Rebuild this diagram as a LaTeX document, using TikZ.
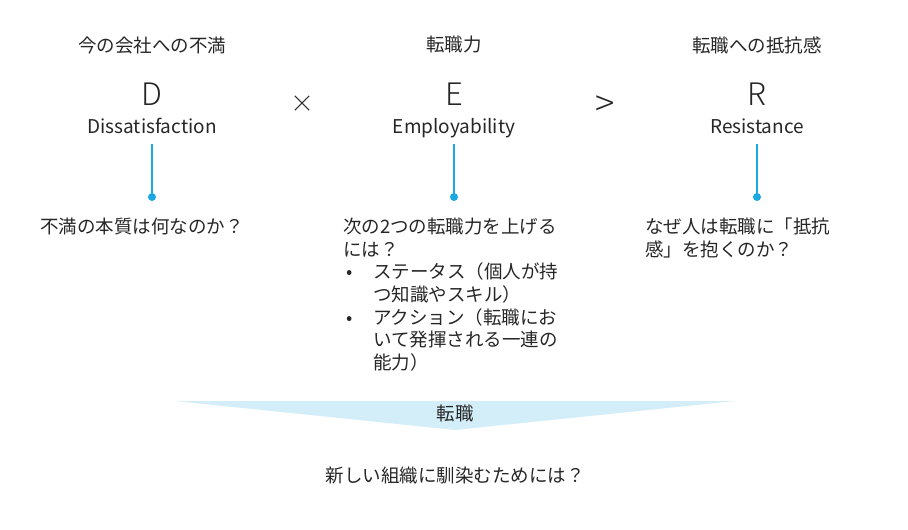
\documentclass[tikz,border=0pt]{standalone}
\usepackage{fontspec}
\setmainfont{Noto Sans CJK JP}
\newfontfamily\lightfont{Noto Sans CJK JP Light}
\usetikzlibrary{positioning}
\definecolor{linkblue}{HTML}{1AA9E2}
\definecolor{shiftfill}{HTML}{D3EEF9}
\definecolor{inkgray}{HTML}{262626}
\begin{document}
\begin{tikzpicture}[
    x=1pt, y=-1pt,
    text=inkgray,
    % Styles
    head_text/.style={font=\fontsize{18.5}{22}\selectfont, inner sep=0pt},
    big_letter/.style={font=\lightfont\fontsize{31}{33}\selectfont, inner sep=0pt},
    word_text/.style={font=\fontsize{19}{22}\selectfont, inner sep=0pt, anchor=base},
    op_text/.style={font=\lightfont\fontsize{24}{26}\selectfont, inner sep=0pt},
    body_text/.style={font=\fontsize{18.5}{22.6}\selectfont, inner sep=0pt, align=left, anchor=north west},
    end_dot/.style={circle, fill=linkblue, inner sep=0pt, minimum size=8pt},
    link_line/.style={linkblue, line width=1.3pt}
]
    \useasboundingbox (0,0) rectangle (908,530);

    % headers
    \node[head_text] (hD) at (152,45) {今の会社への不満};
    \node[head_text] (hE) at (454,45) {転職力};
    \node[head_text] (hR) at (757,45) {転職への抵抗感};

    % letters
    \node[big_letter] (lD) at (152,94) {D};
    \node[big_letter] (lE) at (454,94) {E};
    \node[big_letter] (lR) at (757,94) {R};
    \node[op_text] (times) at (302,104) {×};
    \node[op_text, font=\lightfont\fontsize{36}{38}\selectfont] (greater) at (605,106) {>};

    % words
    \node[word_text] (wD) at (152,133) {Dissatisfaction};
    \node[word_text] (wE) at (454,133) {Employability};
    \node[word_text] (wR) at (757,133) {Resistance};

    % dots and lines
    \foreach \k/\x in {D/152, E/454, R/757} {
        \node[end_dot] (dot\k) at (\x,197) {};
        \draw[link_line] ([yshift=-11pt]w\k.base) -- (dot\k.center);
    }

    % questions
    \node[body_text] (qD) at (40,218) {不満の本質は何なのか？};
    \node[body_text] (qE) at (343,218) {次の2つの転職力を上げる\\
        には？\\
        \makebox[30pt][l]{\hspace{3pt}•}ステータス（個人が持\\
        \hspace*{30pt}つ知識やスキル）\\
        \makebox[30pt][l]{\hspace{3pt}•}アクション（転職にお\\
        \hspace*{30pt}いて発揮される一連の\\
        \hspace*{30pt}能力）};
    \node[body_text] (qR) at (645,218) {なぜ人は転職に「抵抗\\
        感」を抱くのか？};

    % transition wedge
    \coordinate (wedgeL) at (175,401);
    \coordinate (wedgeR) at (735,401);
    \coordinate (wedgeB) at (455,430);
    \fill[shiftfill] (wedgeL) -- (wedgeR) -- (wedgeB) -- cycle;
    \node[head_text] (shift) at (455,413) {転職};

    % bottom question
    \node[head_text] (qNew) at (455,476) {新しい組織に馴染むためには？};

\end{tikzpicture}
\end{document}
